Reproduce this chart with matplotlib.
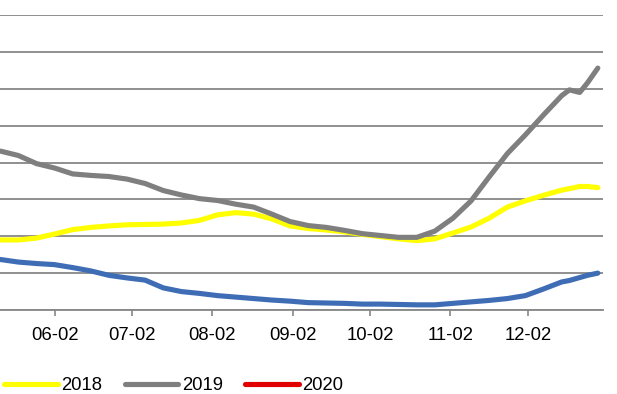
import numpy as np
import matplotlib.pyplot as plt

# day of year for each reading (weekly, a few extra near year end)
days = [132, 139, 146, 153, 160, 167, 174, 181, 188, 195, 202, 209, 216, 223,
        230, 237, 244, 251, 258, 265, 272, 279, 286, 293, 300, 307, 314, 321,
        328, 335, 342, 349, 352, 356, 359, 363]

s2017 = [1.37, 1.30, 1.26, 1.23, 1.15, 1.06, 0.94, 0.87, 0.81, 0.60,
         0.50, 0.45, 0.39, 0.35, 0.31, 0.27, 0.24, 0.20, 0.19, 0.18,
         0.16, 0.16, 0.15, 0.14, 0.14, 0.18, 0.22, 0.26, 0.31, 0.39,
         0.57, 0.76, 0.80, 0.88, 0.94, 1.00]
s2018 = [1.90, 1.90, 1.95, 2.06, 2.18, 2.24, 2.28, 2.31, 2.32, 2.33,
         2.36, 2.43, 2.58, 2.64, 2.60, 2.47, 2.28, 2.21, 2.17, 2.12,
         2.05, 1.99, 1.93, 1.88, 1.93, 2.09, 2.25, 2.49, 2.79, 2.96,
         3.11, 3.25, 3.29, 3.35, 3.35, 3.32]
s2019 = [4.31, 4.19, 3.97, 3.85, 3.69, 3.65, 3.62, 3.55, 3.43, 3.24,
         3.12, 3.02, 2.97, 2.87, 2.79, 2.60, 2.40, 2.29, 2.24, 2.16,
         2.07, 2.02, 1.97, 1.97, 2.14, 2.49, 2.96, 3.61, 4.24, 4.75,
         5.29, 5.81, 5.97, 5.90, 6.16, 6.56]
s2020 = []  # no visible points in this window

tick_days = [153, 183, 214, 245, 275, 306, 336]
tick_labels = ["06-02", "07-02", "08-02", "09-02", "10-02", "11-02", "12-02"]

W, H = 617, 394
fig = plt.figure(figsize=(W / 100, H / 100), dpi=100)
ax = fig.add_axes([0, (H - 310) / H, 603 / W, 295 / H])

grid_c = "#878787"
ax.plot(days, s2017, color="#3F6DB5", lw=3.7, solid_capstyle="round", label="2017")
l18, = ax.plot(days, s2018, color="#FFFF00", lw=3.7, solid_capstyle="round", label="2018")
l19, = ax.plot(days, s2019, color="#7F7F7F", lw=3.7, solid_capstyle="round", label="2019")
l20, = ax.plot(s2020, s2020, color="#E00000", lw=3.7, solid_capstyle="round", label="2020")

ax.set_xlim(131.9, 365)
ax.set_ylim(0, 8)
ax.set_yticks(np.arange(0, 9))
ax.yaxis.grid(True, color=grid_c, lw=1.3)
ax.set_axisbelow(True)
ax.tick_params(axis="y", left=False, labelleft=False)

ax.set_xticks(tick_days)
ax.set_xticklabels(tick_labels, fontsize=13.3, family="Liberation Sans")
ax.tick_params(axis="x", direction="out", length=4.3, width=1.2, color=grid_c, pad=8)

for s in ["top", "left", "right"]:
    ax.spines[s].set_visible(False)
ax.spines["bottom"].set_color(grid_c)
ax.spines["bottom"].set_linewidth(1.3)

fig.legend([l18, l19, l20], ["2018", "2019", "2020"], loc="center left",
           bbox_to_anchor=(-5 / W, 8 / H), ncol=3, frameon=False,
           handlelength=2.9, handletextpad=0.2, columnspacing=1.2,
           borderpad=0, prop={"family": "Liberation Sans", "size": 13.3})

fig.savefig("out.png", dpi=100)
